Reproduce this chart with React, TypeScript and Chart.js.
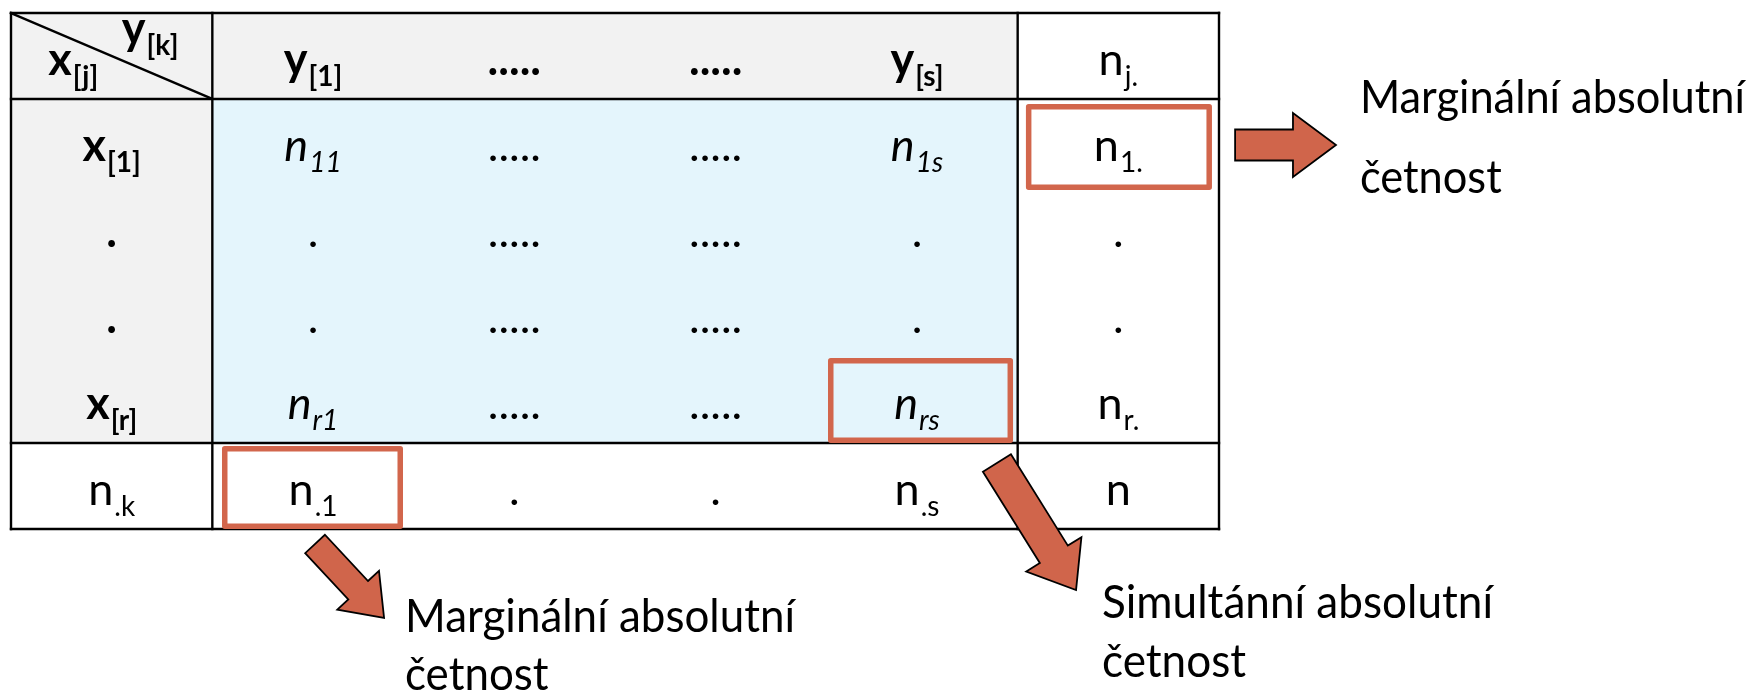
import React, { useEffect, useRef } from 'react';
import { Chart, registerables } from 'chart.js';

Chart.register(...registerables);

type Label = [string, string];

// ---- table content ----
const CORNER_ROW: Label = ['x', '[j]'];
const CORNER_COL: Label = ['y', '[k]'];
const COL_HEADS: Label[] = [['y', '[1]'], ['.....', ''], ['.....', ''], ['y', '[s]']];
const TOTAL_HEAD: Label = ['n', 'j.'];
const ROW_HEADS: Label[] = [['x', '[1]'], ['.', ''], ['.', ''], ['x', '[r]']];
const CELLS: Label[][] = [
  [['n', '11'], ['.....', ''], ['.....', ''], ['n', '1s']],
  [['.', ''], ['.....', ''], ['.....', ''], ['.', '']],
  [['.', ''], ['.....', ''], ['.....', ''], ['.', '']],
  [['n', 'r1'], ['.....', ''], ['.....', ''], ['n', 'rs']],
];
const ROW_TOTALS: Label[] = [['n', '1.'], ['.', ''], ['.', ''], ['n', 'r.']];
const TOTAL_LABEL: Label = ['n', '.k'];
const COL_TOTALS: Label[] = [['n', '.1'], ['.', ''], ['.', ''], ['n', '.s']];
const GRAND_TOTAL: Label = ['n', ''];
const NOTE_MARGINAL: string[] = ['Marginální absolutní', 'četnost'];
const NOTE_SIMULTANEOUS: string[] = ['Simultánní absolutní', 'četnost'];

const FONT = 'Lato, "Noto Sans", sans-serif';
const GRAY = '#F2F2F2';
const BLUE = '#E4F5FC';
const RED = '#D2664C';
const ARROW_FILL = '#D0654B';

const tablePlugin = {
  id: 'contingencyTable',
  afterDatasetsDraw(chart: any) {
    const ctx: CanvasRenderingContext2D = chart.ctx;
    const xs = chart.scales.x;
    const ys = chart.scales.y;
    const X = (u: number) => xs.getPixelForValue(u);
    const Y = (v: number) => ys.getPixelForValue(v);
    const nCols = COL_HEADS.length + 2;
    const nRows = ROW_HEADS.length + 2;

    ctx.save();
    // backgrounds
    const rect = (c0: number, r0: number, c1: number, r1: number, color: string) => {
      ctx.fillStyle = color;
      ctx.fillRect(X(c0), Y(r0), X(c1) - X(c0), Y(r1) - Y(r0));
    };
    rect(0, 0, nCols, nRows, '#FFFFFF');
    rect(0, 0, nCols - 1, 1, GRAY);
    rect(0, 0, 1, nRows - 1, GRAY);
    rect(1, 1, nCols - 1, nRows - 1, BLUE);

    // grid lines
    ctx.strokeStyle = '#000';
    ctx.lineWidth = 2.4;
    ctx.lineCap = 'square';
    const vLines = [0, 1, nCols - 1, nCols];
    const hLines = [0, 1, nRows - 1, nRows];
    vLines.forEach((c) => {
      ctx.beginPath();
      ctx.moveTo(X(c), Y(0));
      ctx.lineTo(X(c), Y(nRows));
      ctx.stroke();
    });
    hLines.forEach((r) => {
      ctx.beginPath();
      ctx.moveTo(X(0), Y(r));
      ctx.lineTo(X(nCols), Y(r));
      ctx.stroke();
    });
    ctx.beginPath();
    ctx.moveTo(X(0), Y(0));
    ctx.lineTo(X(1), Y(1));
    ctx.stroke();

    // text helpers
    const MAIN = 45;
    const SUB = 28;
    const font = (size: number, style: string) => {
      const bold = style.includes('b') ? '700 ' : '400 ';
      const ital = style.includes('i') ? 'italic ' : '';
      return `${ital}${bold}${size}px ${FONT}`;
    };
    const drawLabel = (lab: Label, cx: number, base: number, style: string, align: 'center' | 'left' = 'center') => {
      const [main, sub] = lab;
      const st = main === 'n' || main === 'x' || main === 'y' ? style : style.replace('i', '');
      ctx.font = font(MAIN, st);
      const wm = ctx.measureText(main).width;
      ctx.font = font(SUB, st);
      const ws = sub ? ctx.measureText(sub).width + 1 : 0;
      const x0 = align === 'center' ? cx - (wm + ws) / 2 : cx;
      ctx.fillStyle = '#000';
      ctx.textAlign = 'left';
      ctx.textBaseline = 'alphabetic';
      ctx.font = font(MAIN, st);
      ctx.fillText(main, x0, base);
      if (sub) {
        ctx.font = font(SUB, st);
        ctx.fillText(sub, x0 + wm + 1, base + 11);
      }
    };
    const BASE = 0.72; // baseline position inside a row (fraction of row height)
    const cellCenter = (c: number) => X(c + 0.5);
    const cellBase = (r: number) => Y(r + BASE);

    // corner cell
    drawLabel(CORNER_ROW, X(0.185), Y(0.72), 'b', 'left');
    drawLabel(CORNER_COL, X(0.55), Y(0.36), 'b', 'left');

    // header row
    COL_HEADS.forEach((lab, i) => drawLabel(lab, cellCenter(i + 1), cellBase(0), 'b'));
    drawLabel(TOTAL_HEAD, cellCenter(nCols - 1), cellBase(0), '');

    // body
    ROW_HEADS.forEach((lab, r) => drawLabel(lab, cellCenter(0), cellBase(r + 1), 'b'));
    CELLS.forEach((row, r) =>
      row.forEach((lab, c) => drawLabel(lab, cellCenter(c + 1), cellBase(r + 1), 'i'))
    );
    ROW_TOTALS.forEach((lab, r) => drawLabel(lab, cellCenter(nCols - 1), cellBase(r + 1), ''));

    // totals row
    drawLabel(TOTAL_LABEL, cellCenter(0), cellBase(nRows - 1), '');
    COL_TOTALS.forEach((lab, c) => drawLabel(lab, cellCenter(c + 1), cellBase(nRows - 1), ''));
    drawLabel(GRAND_TOTAL, cellCenter(nCols - 1), cellBase(nRows - 1), '');

    // highlight boxes [c0, r0, c1, r1]
    const boxes = [
      [5.041, 1.058, 5.965, 2.058],
      [4.058, 4.012, 4.977, 5.0],
      [1.048, 5.035, 1.947, 6.0],
    ];
    ctx.strokeStyle = RED;
    ctx.lineWidth = 5.5;
    ctx.lineJoin = 'round';
    boxes.forEach(([c0, r0, c1, r1]) => {
      const x0 = X(c0) + 2.75, y0 = Y(r0) + 2.75;
      const x1 = X(c1) - 2.75, y1 = Y(r1) - 2.75;
      ctx.strokeRect(x0, y0, x1 - x0, y1 - y0);
    });

    // arrows: tail (u,v), tip (u,v), shaft width, head width, head length (px)
    const arrows = [
      { t: [6.08, 1.535], p: [6.581, 1.535], sw: 31, hw: 64, hl: 43 },
      { t: [1.51, 6.174], p: [1.853, 7.035], sw: 27, hw: 57, hl: 38 },
      { t: [4.897, 5.233], p: [5.29, 6.709], sw: 33, hw: 65, hl: 42 },
    ];
    arrows.forEach((a) => {
      const tx = X(a.t[0]), ty = Y(a.t[1]);
      const px = X(a.p[0]), py = Y(a.p[1]);
      const len = Math.hypot(px - tx, py - ty);
      const dx = (px - tx) / len, dy = (py - ty) / len;
      const nx = -dy, ny = dx;
      const bx = px - dx * a.hl, by = py - dy * a.hl;
      const pts = [
        [tx + nx * a.sw / 2, ty + ny * a.sw / 2],
        [bx + nx * a.sw / 2, by + ny * a.sw / 2],
        [bx + nx * a.hw / 2, by + ny * a.hw / 2],
        [px, py],
        [bx - nx * a.hw / 2, by - ny * a.hw / 2],
        [bx - nx * a.sw / 2, by - ny * a.sw / 2],
        [tx - nx * a.sw / 2, ty - ny * a.sw / 2],
      ];
      ctx.beginPath();
      pts.forEach(([x, y], i) => (i ? ctx.lineTo(x, y) : ctx.moveTo(x, y)));
      ctx.closePath();
      ctx.fillStyle = ARROW_FILL;
      ctx.fill();
      ctx.strokeStyle = '#000';
      ctx.lineWidth = 1.8;
      ctx.lineJoin = 'miter';
      ctx.stroke();
    });

    // notes
    const notes = [
      { lines: NOTE_MARGINAL, u: 6.7, v: [1.16, 2.09], w: 385 },
      { lines: NOTE_MARGINAL, u: 1.957, v: [7.2, 7.87], w: 390 },
      { lines: NOTE_SIMULTANEOUS, u: 5.419, v: [7.04, 7.72], w: 391 },
    ];
    notes.forEach((n) => {
      ctx.font = `400 46px ${FONT}`;
      const sx = n.w / ctx.measureText(n.lines[0]).width;
      n.lines.forEach((line, i) => {
        ctx.save();
        ctx.translate(X(n.u), Y(n.v[i]));
        ctx.scale(sx, 1);
        ctx.fillStyle = '#000';
        ctx.textAlign = 'left';
        ctx.textBaseline = 'alphabetic';
        ctx.fillText(line, 0, 0);
        ctx.restore();
      });
    });
    ctx.restore();
  },
};

export default function App() {
  const ref = useRef<HTMLCanvasElement | null>(null);
  useEffect(() => {
    if (!ref.current) return;
    const centers: { x: number; y: number }[] = [];
    for (let r = 0; r < ROW_HEADS.length + 2; r++)
      for (let c = 0; c < COL_HEADS.length + 2; c++) centers.push({ x: c + 0.5, y: r + 0.5 });
    const chart = new Chart(ref.current, {
      type: 'scatter',
      data: { datasets: [{ data: centers, pointRadius: 0, pointHoverRadius: 0 }] },
      options: {
        animation: false,
        responsive: false,
        devicePixelRatio: 1,
        events: [],
        layout: { padding: { left: 11, top: 13, right: 534, bottom: 163 } },
        plugins: { legend: { display: false }, tooltip: { enabled: false } },
        scales: {
          x: { type: 'linear', min: 0, max: 6, display: false },
          y: { type: 'linear', min: 0, max: 6, reverse: true, display: false },
        },
      },
      plugins: [tablePlugin],
    });
    return () => chart.destroy();
  }, []);
  return (
    <div style={{ position: 'absolute', left: 0, top: 0, width: 1753, height: 692, background: '#fff' }}>
      <canvas ref={ref} width={1753} height={692} />
    </div>
  );
}
